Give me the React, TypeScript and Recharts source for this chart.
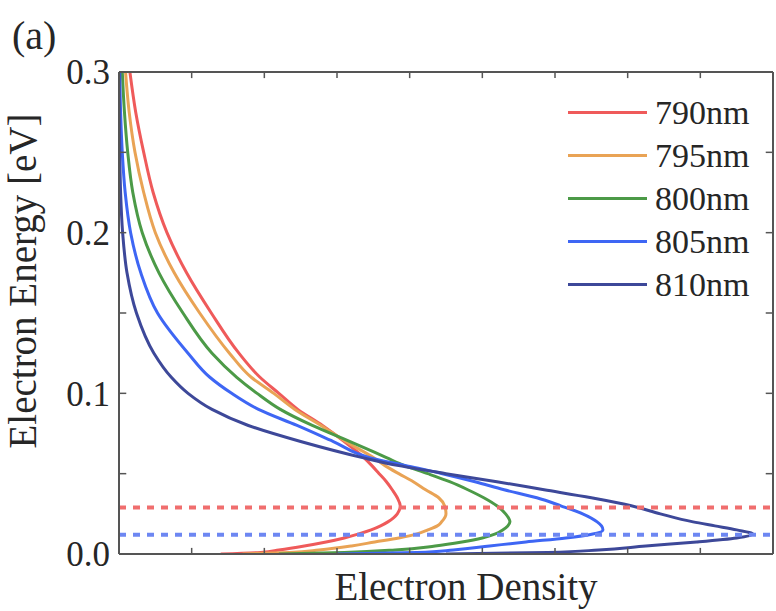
import { LineChart, Line, XAxis, YAxis, ReferenceLine, Legend } from "recharts";

// energy grid (eV) shared by all curves
const ENERGY = [0, 0.001, 0.0025, 0.005, 0.0075, 0.01, 0.0125, 0.015, 0.0175, 0.02, 0.025, 0.03, 0.035, 0.04, 0.045, 0.05, 0.055, 0.06, 0.07, 0.08, 0.09, 0.1, 0.11, 0.125, 0.15, 0.175, 0.2, 0.225, 0.25, 0.275, 0.3];

// electron density (arb. units)
const D_790 = [1.4, 1.95, 2.2, 2.55, 2.85, 3.1, 3.3, 3.47, 3.6, 3.7, 3.83, 3.87, 3.83, 3.76, 3.68, 3.58, 3.48, 3.37, 3.1, 2.8, 2.46, 2.2, 1.94, 1.65, 1.27, 0.93, 0.66, 0.47, 0.34, 0.23, 0.15];
const D_795 = [1.7, 2.35, 2.75, 3.2, 3.52, 3.85, 4.1, 4.25, 4.38, 4.44, 4.5, 4.48, 4.4, 4.22, 4.05, 3.85, 3.66, 3.5, 3.12, 2.78, 2.42, 2.13, 1.82, 1.52, 1.11, 0.76, 0.5, 0.34, 0.22, 0.14, 0.09];
const D_800 = [2.2, 3.1, 3.8, 4.35, 4.72, 5.0, 5.18, 5.28, 5.35, 5.38, 5.32, 5.2, 5.02, 4.8, 4.55, 4.25, 3.93, 3.68, 3.18, 2.66, 2.22, 1.9, 1.62, 1.28, 0.88, 0.55, 0.32, 0.19, 0.12, 0.075, 0.045];
const D_805 = [3.0, 4.1, 4.6, 5.1, 5.6, 6.15, 6.52, 6.66, 6.64, 6.58, 6.38, 6.08, 5.75, 5.3, 4.9, 4.45, 3.95, 3.45, 2.95, 2.45, 1.92, 1.55, 1.25, 0.95, 0.53, 0.3, 0.16, 0.085, 0.045, 0.022, 0.01];
const D_810 = [4.5, 5.9, 6.6, 7.25, 7.95, 8.5, 8.72, 8.5, 8.2, 7.9, 7.45, 7.05, 6.5, 5.85, 5.2, 4.5, 3.85, 3.35, 2.5, 1.78, 1.28, 0.95, 0.72, 0.48, 0.24, 0.11, 0.05, 0.022, 0.01, 0.005, 0];

const SERIES = [
  { key: "d790", name: "790nm", color: "#EF5A5A", values: D_790 },
  { key: "d795", name: "795nm", color: "#E9A355", values: D_795 },
  { key: "d800", name: "800nm", color: "#4C9A47", values: D_800 },
  { key: "d805", name: "805nm", color: "#3E66F4", values: D_805 },
  { key: "d810", name: "810nm", color: "#3D4899", values: D_810 },
];

const X_MAX = 9;
const E_MAX = 0.3;
const X_TICKS = [1, 2, 3, 4, 5, 6, 7, 8];
const Y_LABEL_TICKS = [0, 0.1, 0.2, 0.3];
const Y_MINOR_TICKS = [0.05, 0.1, 0.15, 0.2, 0.25];
const DASH_RED = 0.029;
const DASH_BLUE = 0.012;

// inward tick lengths, in data units
const X_TICK_LEN = 0.0038;
const Y_TICK_LEN = 0.1;

const FONT = "'Liberation Serif', 'Times New Roman', serif";
const INK = "#262626";
const AXIS = "#555";

const rows = ENERGY.map((e, i) => {
  const r: Record<string, number> = { e };
  SERIES.forEach(s => { r[s.key] = s.values[i]; });
  return r;
});

function renderLegend({ payload }: any) {
  const items = (payload ?? []).filter((p: any) => SERIES.some(s => s.name === p.value));
  return (
    <div>
      {items.map((p: any) => (
        <div key={p.value} style={{ display: "flex", alignItems: "center", height: 43 }}>
          <span style={{ width: 79, height: 3, background: p.color, marginRight: 8, display: "inline-block" }} />
          <span style={{ fontFamily: FONT, fontSize: 34, color: INK, lineHeight: 1 }}>{p.value}</span>
        </div>
      ))}
    </div>
  );
}

const xTitle = (props: any) => {
  const vb = props.viewBox;
  return (
    <text x={vb.x + vb.width / 2 + 20} y={vb.y + 46} textAnchor="middle"
      fontFamily={FONT} fontSize={39} fill={INK}>Electron Density</text>
  );
};

const yTitle = (props: any) => {
  const vb = props.viewBox;
  const cx = vb.x + 36;
  const cy = vb.y + vb.height / 2 - 32;
  return (
    <text x={cx} y={cy} transform={`rotate(-90 ${cx} ${cy})`} textAnchor="middle"
      fontFamily={FONT} fontSize={39} fill={INK}>Electron Energy [eV]</text>
  );
};

export default function App() {
  const axisLine = { stroke: AXIS, strokeWidth: 2 };
  const tickStyle = { stroke: AXIS, strokeWidth: 1.5 };

  // frame ticks pointing into the plot
  const frameTicks = [
    ...X_TICKS.map(t => [{ x: t, y: 0 }, { x: t, y: X_TICK_LEN }]),
    ...X_TICKS.map(t => [{ x: t, y: E_MAX }, { x: t, y: E_MAX - X_TICK_LEN }]),
    ...Y_MINOR_TICKS.map(v => [{ x: 0, y: v }, { x: Y_TICK_LEN, y: v }]),
    ...Y_MINOR_TICKS.map(v => [{ x: X_MAX, y: v }, { x: X_MAX - Y_TICK_LEN, y: v }]),
  ];

  return (
    <div style={{ position: "absolute", left: 0, top: 0, width: 776, height: 611, background: "#fff", fontFamily: FONT }}>
      <div style={{ position: "absolute", left: 12, top: 16, fontSize: 40, color: INK, lineHeight: 1 }}>(a)</div>
      <LineChart width={776} height={611} data={rows} layout="vertical"
        margin={{ top: 72, right: 3, bottom: 0, left: 0 }}>
        <XAxis xAxisId="main" type="number" domain={[0, X_MAX]} allowDataOverflow orientation="bottom"
          height={57} tick={false} tickLine={false} axisLine={axisLine} label={xTitle} />
        <XAxis xAxisId="top" type="number" domain={[0, X_MAX]} allowDataOverflow orientation="top" mirror
          tick={false} tickLine={false} axisLine={axisLine} />
        <YAxis yAxisId="main" type="number" dataKey="e" domain={[0, E_MAX]} allowDataOverflow reversed width={119}
          ticks={Y_LABEL_TICKS} tickFormatter={(v: number) => v.toFixed(1)} tickLine={false} tickMargin={3}
          tick={{ fontFamily: FONT, fontSize: 35, fill: INK }} axisLine={axisLine} label={yTitle} />
        <YAxis yAxisId="right" type="number" dataKey="e" domain={[0, E_MAX]} allowDataOverflow reversed orientation="right" mirror
          tick={false} tickLine={false} axisLine={axisLine} />
        {SERIES.map(s => (
          <Line key={s.key} xAxisId="main" yAxisId="main" dataKey={s.key} name={s.name} type="monotone"
            stroke={s.color} strokeWidth={3} dot={false} activeDot={false} isAnimationActive={false} />
        ))}
        <ReferenceLine xAxisId="main" yAxisId="main" y={DASH_RED} stroke="#F06E6E" strokeWidth={4} strokeDasharray="7 7" />
        <ReferenceLine xAxisId="main" yAxisId="main" y={DASH_BLUE} stroke="#6D87F2" strokeWidth={4} strokeDasharray="7 7" />
        {frameTicks.map((seg, i) => (
          <ReferenceLine key={`tk${i}`} xAxisId="main" yAxisId="main" segment={seg} {...tickStyle} />
        ))}
        <Legend layout="horizontal" verticalAlign="middle" align="center" content={renderLegend}
          wrapperStyle={{ left: 568, top: 91, width: 200 }} />
      </LineChart>
    </div>
  );
}
